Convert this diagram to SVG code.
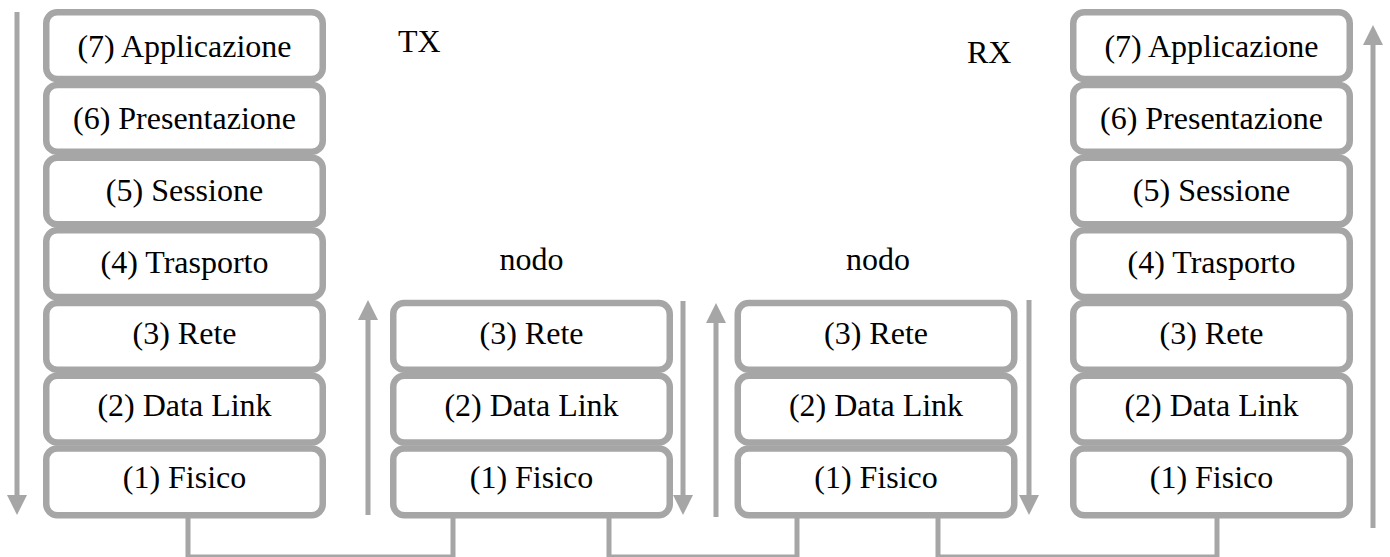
<svg xmlns="http://www.w3.org/2000/svg" width="1390" height="557" viewBox="0 0 1390 557">
  <style>
    .layer rect { fill: #ffffff; stroke: #a6a6a6; stroke-width: 6.5; }
    text { font-family: "Liberation Serif", Tinos, "Times New Roman", Times, "DejaVu Serif", "Noto Serif", serif; font-size: 32px; fill: #000000; }
    .layer text { text-anchor: middle; }
    .flow { stroke: #a6a6a6; stroke-width: 5; fill: none; }
    .link { stroke: #a6a6a6; stroke-width: 5; fill: none; }
  </style>
  <defs>
    <marker id="head" viewBox="0 0 20 20" markerWidth="20" markerHeight="20" markerUnits="userSpaceOnUse" refX="10" refY="10" orient="auto">
      <path d="M0,0 L20,10 L0,20 z" fill="#a6a6a6"/>
    </marker>
  </defs>

  <rect width="1390" height="557" fill="#ffffff"/>

  <!-- connectors: direction arrows and physical links -->
  <g id="connectors">
    <line class="flow" x1="17" y1="12" x2="17" y2="505" marker-end="url(#head)"/>
    <line class="flow" x1="368" y1="515" x2="368" y2="310" marker-end="url(#head)"/>
    <line class="flow" x1="683" y1="301" x2="683" y2="505" marker-end="url(#head)"/>
    <line class="flow" x1="716" y1="517" x2="716" y2="313" marker-end="url(#head)"/>
    <line class="flow" x1="1029" y1="300" x2="1029" y2="505" marker-end="url(#head)"/>
    <line class="flow" x1="1373" y1="528" x2="1373" y2="35" marker-end="url(#head)"/>
    <polyline class="link" points="188,517 188,557 453,557 453,517"/>
    <polyline class="link" points="609,517 609,557 797,557 797,517"/>
    <polyline class="link" points="938,517 938,557 1217,557 1217,517"/>
  </g>

  <!-- transmitting host: full 7-layer stack -->
  <g id="tx-stack" class="layer">
    <g id="tx-7"><rect x="46.25" y="12.25" width="276.5" height="66.7" rx="11"/><text x="184.5" y="57">(7) Applicazione</text></g>
    <g id="tx-6"><rect x="46.25" y="84.95" width="276.5" height="66.7" rx="11"/><text x="184.5" y="128.8">(6) Presentazione</text></g>
    <g id="tx-5"><rect x="46.25" y="157.65" width="276.5" height="66.7" rx="11"/><text x="184.5" y="200.7">(5) Sessione</text></g>
    <g id="tx-4"><rect x="46.25" y="230.35" width="276.5" height="66.7" rx="11"/><text x="184.5" y="272.5">(4) Trasporto</text></g>
    <g id="tx-3"><rect x="46.25" y="303.05" width="276.5" height="66.7" rx="11"/><text x="184.5" y="344.3">(3) Rete</text></g>
    <g id="tx-2"><rect x="46.25" y="375.75" width="276.5" height="66.7" rx="11"/><text x="184.5" y="416.2">(2) Data Link</text></g>
    <g id="tx-1"><rect x="46.25" y="448.45" width="276.5" height="66.7" rx="11"/><text x="184.5" y="488">(1) Fisico</text></g>
  </g>

  <!-- intermediate node 1 -->
  <g id="node-1" class="layer">
    <g id="n1-3"><rect x="393.25" y="303.05" width="276.5" height="66.7" rx="11"/><text x="531.5" y="344.3">(3) Rete</text></g>
    <g id="n1-2"><rect x="393.25" y="375.75" width="276.5" height="66.7" rx="11"/><text x="531.5" y="416.2">(2) Data Link</text></g>
    <g id="n1-1"><rect x="393.25" y="448.45" width="276.5" height="66.7" rx="11"/><text x="531.5" y="488">(1) Fisico</text></g>
  </g>

  <!-- intermediate node 2 -->
  <g id="node-2" class="layer">
    <g id="n2-3"><rect x="737.75" y="303.05" width="276.5" height="66.7" rx="11"/><text x="876" y="344.3">(3) Rete</text></g>
    <g id="n2-2"><rect x="737.75" y="375.75" width="276.5" height="66.7" rx="11"/><text x="876" y="416.2">(2) Data Link</text></g>
    <g id="n2-1"><rect x="737.75" y="448.45" width="276.5" height="66.7" rx="11"/><text x="876" y="488">(1) Fisico</text></g>
  </g>

  <!-- receiving host: full 7-layer stack -->
  <g id="rx-stack" class="layer">
    <g id="rx-7"><rect x="1073.25" y="12.25" width="276.5" height="66.7" rx="11"/><text x="1211.5" y="57">(7) Applicazione</text></g>
    <g id="rx-6"><rect x="1073.25" y="84.95" width="276.5" height="66.7" rx="11"/><text x="1211.5" y="128.8">(6) Presentazione</text></g>
    <g id="rx-5"><rect x="1073.25" y="157.65" width="276.5" height="66.7" rx="11"/><text x="1211.5" y="200.7">(5) Sessione</text></g>
    <g id="rx-4"><rect x="1073.25" y="230.35" width="276.5" height="66.7" rx="11"/><text x="1211.5" y="272.5">(4) Trasporto</text></g>
    <g id="rx-3"><rect x="1073.25" y="303.05" width="276.5" height="66.7" rx="11"/><text x="1211.5" y="344.3">(3) Rete</text></g>
    <g id="rx-2"><rect x="1073.25" y="375.75" width="276.5" height="66.7" rx="11"/><text x="1211.5" y="416.2">(2) Data Link</text></g>
    <g id="rx-1"><rect x="1073.25" y="448.45" width="276.5" height="66.7" rx="11"/><text x="1211.5" y="488">(1) Fisico</text></g>
  </g>

  <!-- captions -->
  <g id="captions">
    <text x="398" y="52">TX</text>
    <text x="967" y="63">RX</text>
    <text x="531.5" y="270" text-anchor="middle">nodo</text>
    <text x="878" y="270" text-anchor="middle">nodo</text>
  </g>
</svg>
